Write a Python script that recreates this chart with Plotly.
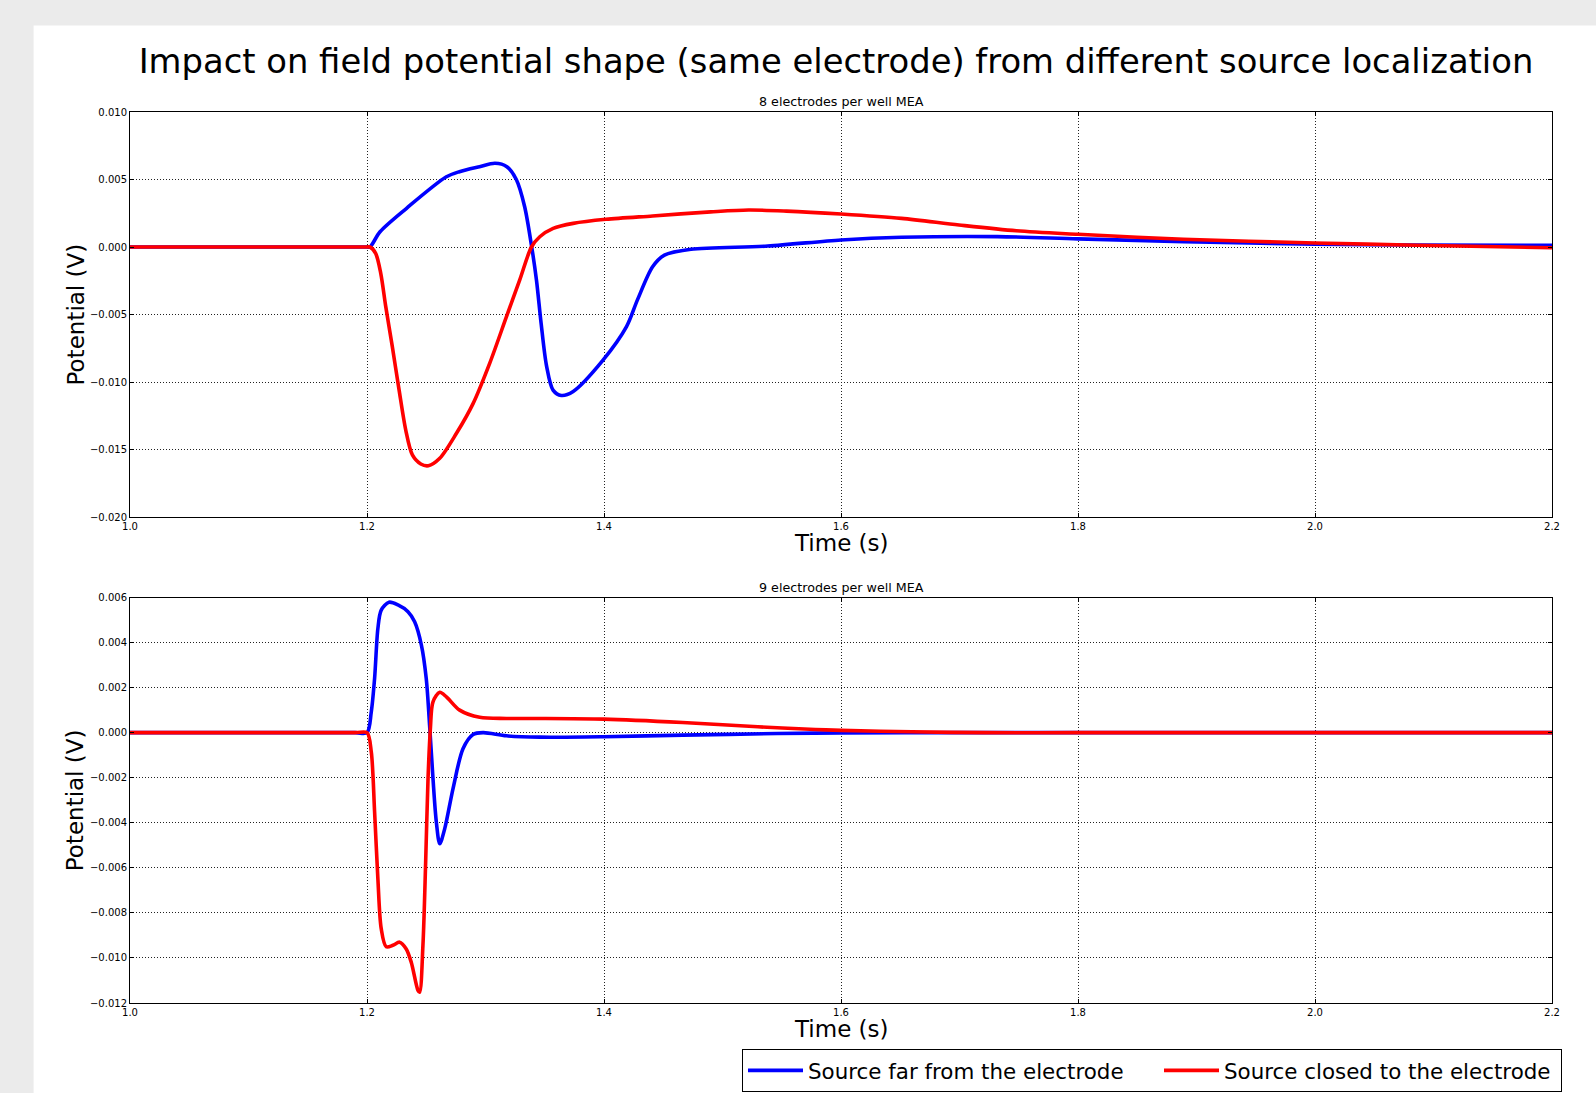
import plotly.graph_objects as go

# ---- data ----
t_top_far = [1.0, 1.1, 1.19, 1.2, 1.2025, 1.211, 1.2334, 1.267, 1.278, 1.295, 1.308, 1.318, 1.326, 1.333, 1.339,
             1.343, 1.347, 1.3515, 1.357, 1.364, 1.374, 1.399, 1.419, 1.4283, 1.441, 1.451, 1.4734,
             1.538, 1.6, 1.651, 1.732, 1.8, 1.889, 2.0, 2.086, 2.2]
v_top_far = [0.0, 0.0, 0.0, 0.0, 0.0, 0.00113, 0.00287, 0.0052, 0.00558, 0.00595, 0.0062, 0.00595, 0.005, 0.003, 0.0,
             -0.00244, -0.0057, -0.0088, -0.0106, -0.011, -0.0107, -0.0084, -0.0059, -0.0039, -0.00146, -0.0006, -0.00017,
             0.00007, 0.00052, 0.00072, 0.00077, 0.0006, 0.0004, 0.0002, 0.00015, 0.00012]

t_top_close = [1.0, 1.1, 1.19, 1.2, 1.2025, 1.2073, 1.2116, 1.2158, 1.2214, 1.2271, 1.2327, 1.2383, 1.2454, 1.2518,
               1.2614, 1.2755, 1.2895, 1.3036, 1.3177, 1.3289, 1.3388, 1.3458, 1.3571, 1.374, 1.4017,
               1.441, 1.49, 1.522, 1.554, 1.6, 1.651, 1.6996, 1.748, 1.8, 1.889, 2.0, 2.086, 2.2]
v_top_close = [0.0, 0.0, 0.0, 0.0, 0.0, -0.00047, -0.00195, -0.0044, -0.0074, -0.0106, -0.01356, -0.0154, -0.01607, -0.0162,
               -0.01565, -0.0138, -0.0116, -0.0086, -0.00516, -0.00244, 0.0, 0.00076, 0.00138, 0.00175, 0.00205,
               0.0023, 0.0026, 0.00274, 0.00266, 0.00244, 0.00212, 0.00163, 0.0012, 0.00094, 0.00057, 0.0003, 0.00013, -0.00005]

t_bot_far = [1.0, 1.1, 1.19, 1.2, 1.2036, 1.2064, 1.2092, 1.212, 1.2186, 1.2261, 1.2346, 1.2402, 1.2459, 1.25, 1.253,
             1.2557, 1.2585, 1.2614, 1.2656, 1.2726, 1.2811, 1.2895, 1.298, 1.3177, 1.346, 1.4, 1.4664,
             1.546, 1.6, 1.7, 1.8, 1.9, 2.0, 2.1, 2.2]
v_bot_far = [0.0, 0.0, 0.0, 0.0, 0.00092, 0.0024, 0.00463, 0.00544, 0.00579, 0.00567, 0.00537, 0.00492, 0.00389, 0.0024, 0.00019,
             -0.00204, -0.00396, -0.00493, -0.00426, -0.00248, -0.0007, -0.00008, 0.0, -0.00014, -0.0002, -0.00018, -0.00011,
             -0.00004, -0.00001, 0.0, 0.0, 0.0, 0.0, 0.0, 0.0]

t_bot_close = [1.0, 1.1, 1.19, 1.2, 1.2036, 1.2064, 1.2092, 1.212, 1.2162, 1.2218, 1.2275, 1.2331, 1.2374, 1.243, 1.2444,
               1.2472, 1.2495, 1.2515, 1.2535, 1.2557, 1.2614, 1.267, 1.2782, 1.2951, 1.3177, 1.346, 1.4,
               1.4664, 1.5298, 1.5783, 1.6, 1.66, 1.72, 1.8, 1.9, 2.0, 2.1, 2.2]
v_bot_close = [0.0, 0.0, 0.0, 0.0, -0.00085, -0.0035, -0.0065, -0.0087, -0.0095, -0.00944, -0.0093, -0.0096, -0.0102, -0.01144, -0.01152,
               -0.00944, -0.00574, -0.00204, 0.00019, 0.00137, 0.00179, 0.00159, 0.001, 0.00068, 0.00063, 0.00063, 0.0006,
               0.00045, 0.00026, 0.00014, 0.0001, 0.00004, 0.0, 0.0, 0.0, 0.0, 0.0, 0.0]

x_ticks = [1.0, 1.2, 1.4, 1.6, 1.8, 2.0, 2.2]
y_ticks_top = [-0.020, -0.015, -0.010, -0.005, 0.0, 0.005, 0.010]
y_ticks_bot = [-0.012, -0.010, -0.008, -0.006, -0.004, -0.002, 0.0, 0.002, 0.004, 0.006]

name_far = "Source far from the electrode"
name_close = "Source closed to the electrode"
title_main = "Impact on field potential shape (same electrode) from different source localization"
title_top = "8 electrodes per well MEA"
title_bot = "9 electrodes per well MEA"

FONT = "DejaVu Sans"
W, H = 1596, 1093
L, R, T, B = 130, 44, 112, 90
plot_w = W - L - R
plot_h = H - T - B
top_dom = [(H - B - 517) / plot_h, 1.0]
bot_dom = [0.0, (H - B - 597.5) / plot_h]

fig = go.Figure()
line_kw = dict(width=3.6, shape="spline", smoothing=0.85)
fig.add_trace(go.Scatter(x=t_top_far, y=v_top_far, mode="lines", name=name_far, legendwidth=346,
                         line=dict(color="#0000ff", **line_kw),
                         xaxis="x", yaxis="y", legendgroup="far"))
fig.add_trace(go.Scatter(x=t_top_close, y=v_top_close, mode="lines", name=name_close, legendwidth=332,
                         line=dict(color="#ff0000", **line_kw),
                         xaxis="x", yaxis="y", legendgroup="close"))
fig.add_trace(go.Scatter(x=t_bot_far, y=v_bot_far, mode="lines", name=name_far, showlegend=False,
                         line=dict(color="#0000ff", **line_kw),
                         xaxis="x2", yaxis="y2", legendgroup="far"))
fig.add_trace(go.Scatter(x=t_bot_close, y=v_bot_close, mode="lines", name=name_close, showlegend=False,
                         line=dict(color="#ff0000", **line_kw),
                         xaxis="x2", yaxis="y2", legendgroup="close"))

ax_common = dict(showline=True, linecolor="black", linewidth=1, mirror="ticks",
                 ticks="inside", ticklen=4, tickcolor="black",
                 showgrid=True, gridcolor="#222222", griddash="1px,2px", gridwidth=1,
                 zeroline=False, tickfont=dict(family=FONT, size=10, color="black"))

fig.update_layout(
    width=W, height=H,
    margin=dict(l=L, r=R, t=T, b=B, autoexpand=False),
    paper_bgcolor="#ebebeb", plot_bgcolor="white",
    showlegend=True,
    xaxis=dict(domain=[0, 1], anchor="y", range=[1.0, 2.2], tickvals=x_ticks, tickformat=".1f", **ax_common),
    yaxis=dict(domain=top_dom, anchor="x", range=[-0.020, 0.010], tickvals=y_ticks_top, tickformat=".3f", **ax_common),
    xaxis2=dict(domain=[0, 1], anchor="y2", range=[1.0, 2.2], tickvals=x_ticks, tickformat=".1f", **ax_common),
    yaxis2=dict(domain=bot_dom, anchor="x2", range=[-0.012, 0.006], tickvals=y_ticks_bot, tickformat=".3f", **ax_common),
    title=dict(text=title_main, font=dict(family=FONT, size=33.8, color="black"),
               x=836 / W, xref="container", xanchor="center",
               y=1 - 61 / H, yref="container", yanchor="middle"),
    legend=dict(orientation="h", x=(742 - L) / plot_w, xanchor="left",
                y=(H - B - 1092) / plot_h, yanchor="bottom",
                bgcolor="white", bordercolor="black", borderwidth=1,
                font=dict(family=FONT, size=21.4, color="black"),
                itemwidth=55, traceorder="normal"),
    font=dict(family=FONT, color="black"),
)

# white figure area (the page around it is grey)
fig.add_shape(type="rect", xref="paper", yref="paper", layer="below",
              x0=(33.6 - L) / plot_w, x1=(W + 5 - L) / plot_w,
              y0=(H - B - H - 5) / plot_h, y1=(H - B - 25.4) / plot_h,
              fillcolor="white", line=dict(width=0))

annos = [
    dict(text=title_top, x=0.5, y=top_dom[1], yanchor="bottom", yshift=1, font=dict(size=12.7)),
    dict(text=title_bot, x=0.5, y=bot_dom[1], yanchor="bottom", yshift=1, font=dict(size=12.7)),
    dict(text="Time (s)", x=0.5, y=top_dom[0], yanchor="middle", yshift=-(542.5 - 517), font=dict(size=23)),
    dict(text="Time (s)", x=0.5, y=bot_dom[0], yanchor="middle", yshift=-(1029 - 1002.6), font=dict(size=23)),
    dict(text="Potential (V)", x=0, xanchor="center", xshift=-(L - 75), y=sum(top_dom) / 2, yanchor="middle",
         textangle=-90, font=dict(size=23)),
    dict(text="Potential (V)", x=0, xanchor="center", xshift=-(L - 75), y=sum(bot_dom) / 2, yanchor="middle",
         textangle=-90, font=dict(size=23)),
]
for a in annos:
    a.setdefault("xanchor", "center")
    a["font"] = dict(family=FONT, color="black", **a["font"])
    fig.add_annotation(xref="paper", yref="paper", showarrow=False, **a)

page_css = ("document.body.style.margin='0';"
            "document.body.style.background='#ebebeb';"
            "document.documentElement.style.overflow='hidden';"
            "document.body.style.overflow='hidden';")
fig.write_html("out.html", post_script=page_css, config={"displayModeBar": False})
